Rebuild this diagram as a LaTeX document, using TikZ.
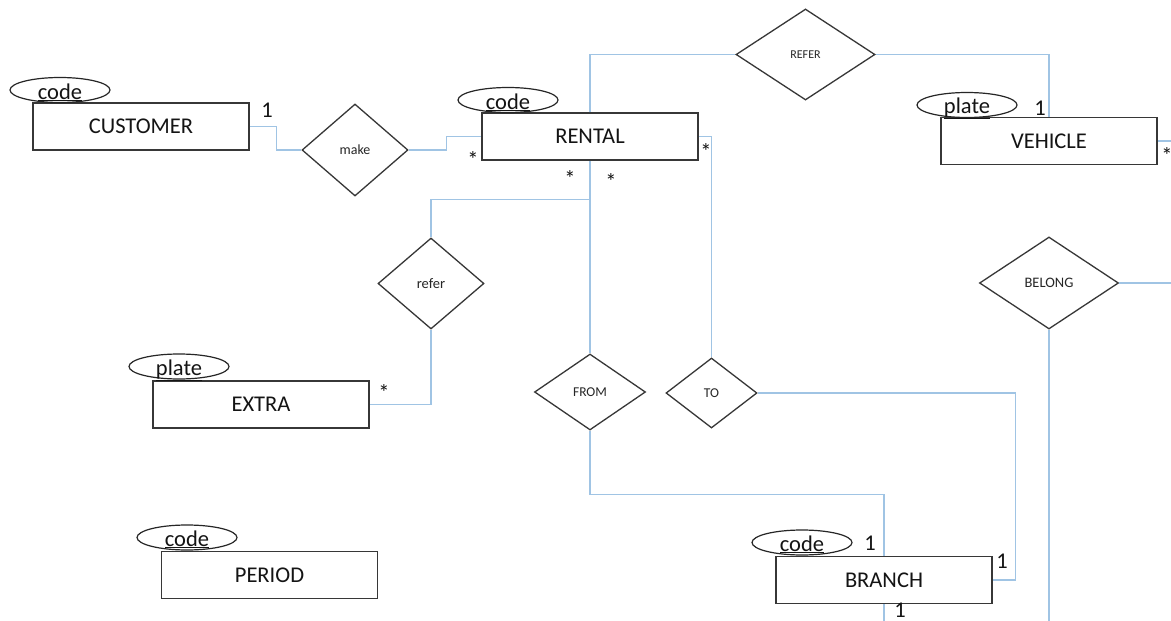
\documentclass[tikz,border=0pt]{standalone}
\usepackage{fontspec}
\setmainfont{Carlito}
\usetikzlibrary{shapes.geometric}
\definecolor{linkblue}{RGB}{160,196,228}
\definecolor{inkgray}{RGB}{55,55,55}
\newcommand{\bigtext}{\fontsize{22.5}{27}\selectfont}
\begin{document}
\begin{tikzpicture}[x=1pt,y=-1pt,
  entity/.style={draw=inkgray, line width=1.5pt, rectangle, minimum width=216pt,
    minimum height=47pt, inner sep=0pt, font=\bigtext, text=black!92},
  attr/.style={draw=black!85, line width=1.2pt, ellipse, minimum width=100pt,
    minimum height=25pt, inner sep=0pt},
  keyname/.style={font=\bigtext, inner sep=0pt, anchor=base, text=black!92},
  rel/.style={draw=inkgray, line width=1.3pt, diamond, inner sep=0pt, text=black!85},
  card/.style={font=\bigtext, inner sep=0pt, anchor=base, text=black!92},
  conn/.style={draw=linkblue, line width=1.4pt}]
\useasboundingbox (0,0) rectangle (1171,621);
\fill[white] (0,0) rectangle (1171,621);

% entities
\node[entity] (customer) at (141,126.5) {CUSTOMER};
\node[entity] (rental)   at (590,136.5) {RENTAL};
\node[entity] (vehicle)  at (1049,141)  {VEHICLE};
\node[entity] (extra)    at (261,404.5) {EXTRA};
\node[entity] (period)   at (269.5,575) {PERIOD};
\node[entity] (branch)   at (884,580)   {BRANCH};

% key attributes
\node[attr] (customerkey) at (60,90) {};
\node[keyname] (customerkeytext) at (60,99) {\underline{code}};
\node[attr] (rentalkey) at (508,100) {};
\node[keyname] (rentalkeytext) at (508,109) {\underline{code}};
\node[attr] (vehiclekey) at (967,105) {};
\node[keyname] (vehiclekeytext) at (967,113) {\underline{plate}};
\node[attr] (extrakey) at (179,366.5) {};
\node[keyname] (extrakeytext) at (179,375) {\underline{plate}};
\node[attr] (periodkey) at (187,537.5) {};
\node[keyname] (periodkeytext) at (187,546) {\underline{code}};
\node[attr] (branchkey) at (802,542.5) {};
\node[keyname] (branchkeytext) at (802,551) {\underline{code}};

% relationships
\node[rel, minimum width=106pt, minimum height=92pt, font=\fontsize{14}{16}\selectfont]
  (make) at (355,150) {make};
\node[rel, minimum width=106pt, minimum height=91pt, font=\fontsize{14.5}{16}\selectfont]
  (refersmall) at (431,283.5) {refer};
\node[rel, minimum width=139pt, minimum height=91pt, font=\fontsize{12}{14}\selectfont]
  (referbig) at (805.5,54.5) {REFER};
\node[rel, minimum width=111pt, minimum height=76pt, font=\fontsize{13.5}{15}\selectfont]
  (from) at (590,392) {FROM};
\node[rel, minimum width=91pt, minimum height=70pt, font=\fontsize{13.5}{15}\selectfont]
  (to) at (711.5,393) {TO};
\node[rel, minimum width=139pt, minimum height=92pt, font=\fontsize{14.5}{16}\selectfont]
  (belong) at (1049,283) {BELONG};

% loose ends at the border
\coordinate (vehicleout) at (1171,141);
\coordinate (belongout) at (1171,283);
\coordinate (belongdown) at (1049,621);
\coordinate (branchdown) at (884,621);

% connectors
\draw[conn] (customer.east) -- ++(27,0) |- (make.west);
\draw[conn] (make.east) -- ++(38,0) |- (rental.west);
\draw[conn] (rental.north) |- (referbig.west);
\draw[conn] (referbig.east) -| (vehicle.north);
\draw[conn] (rental.south) -- (from.north);
\path (rental.south) ++(0,39) coordinate (referjoint);
\draw[conn] (refersmall.north) |- (referjoint);
\draw[conn] (refersmall.south) |- (extra.east);
\draw[conn] (rental.east) -| (to.north);
\draw[conn] (to.east) -- ++(258,0) |- (branch.east);
\draw[conn] (from.south) -- ++(0,64) -| (branch.north);
\draw[conn] (vehicle.east) -- (vehicleout);
\draw[conn] (belong.east) -- (belongout);
\draw[conn] (belong.south) -- (belongdown);
\draw[conn] (branch.south) -- (branchdown);

% cardinalities
\node[card] (c1) at (267,117) {1};
\node[card] (c2) at (473,167) {*};
\node[card] (c3) at (570,186) {*};
\node[card] (c4) at (611,189) {*};
\node[card] (c5) at (706,159) {*};
\node[card] (c6) at (1040,115) {1};
\node[card] (c7) at (1167,163) {*};
\node[card] (c8) at (384,400) {*};
\node[card] (c9) at (870,550) {1};
\node[card] (c10) at (1002,568) {1};
\node[card] (c11) at (900,617) {1};
\end{tikzpicture}
\end{document}
